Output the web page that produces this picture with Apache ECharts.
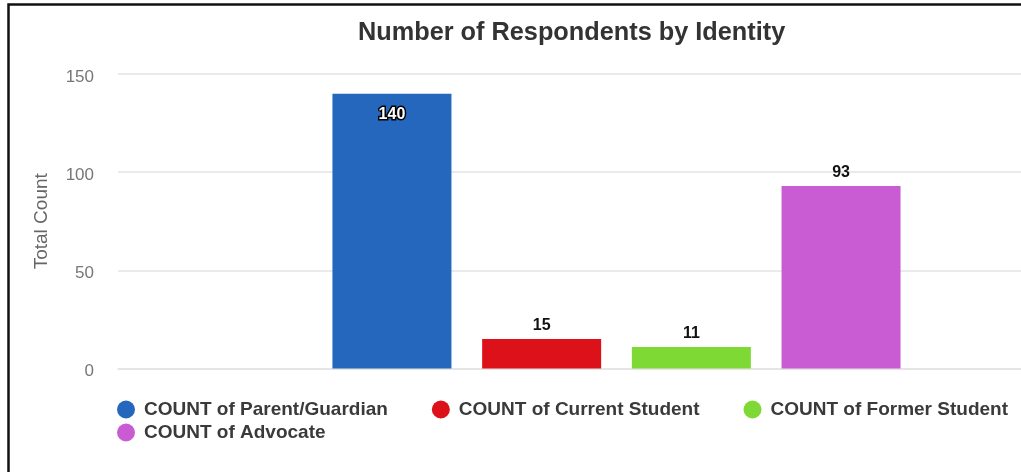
<!DOCTYPE html>
<html>
<head>
<meta charset="utf-8">
<script src="https://cdn.jsdelivr.net/npm/echarts@6/dist/echarts.min.js"></script>
<style>
html,body{margin:0;padding:0;background:#fff;}
#chart{width:1021px;height:472px;}
</style>
</head>
<body>
<div id="chart"></div>
<script>
const categories = ['Parent/Guardian', 'Current Student', 'Former Student', 'Advocate'];
const values = [140, 15, 11, 93];
const colors = ['#2467bd', '#dc1119', '#7ed934', '#c95bd3'];
const yTicks = [0, 50, 100, 150];

const FONT = '"Liberation Sans", Arial, sans-serif';
const seriesNames = categories.map(c => 'COUNT of ' + c);

const series = categories.map((c, i) => ({
  name: seriesNames[i],
  type: 'bar',
  data: [values[i]],
  barWidth: 119,
  barGap: '25.8%',
  itemStyle: { color: colors[i] },
  label: i === 0 ? {
    show: true, position: 'insideTop', distance: 13,
    color: '#fff', fontWeight: 'bold', fontSize: 16, fontFamily: FONT,
    textBorderColor: '#000', textBorderWidth: 3
  } : {
    show: true, position: 'top', distance: 5,
    color: '#111', fontWeight: 'bold', fontSize: 16, fontFamily: FONT
  }
}));

const chart = echarts.init(document.getElementById('chart'), null, { renderer: 'canvas' });
chart.setOption({
  animation: false,
  backgroundColor: '#fff',
  title: {
    text: 'Number of Respondents by Identity',
    left: 353, top: 16,
    textStyle: { fontFamily: FONT, fontSize: 25.3, fontWeight: 'bold', color: '#333' }
  },
  legend: [
    {
      data: seriesNames.slice(0, 3),
      left: 112, top: 395,
      orient: 'horizontal',
      icon: 'circle', itemWidth: 18, itemHeight: 18, itemGap: 44,
      textStyle: { fontFamily: FONT, fontSize: 19, fontWeight: 'bold', color: '#3a3a3a', padding: [0, 0, 0, 4] }
    },
    {
      data: seriesNames.slice(3),
      left: 112, top: 418,
      orient: 'horizontal',
      icon: 'circle', itemWidth: 18, itemHeight: 18, itemGap: 44,
      textStyle: { fontFamily: FONT, fontSize: 19, fontWeight: 'bold', color: '#3a3a3a', padding: [0, 0, 0, 4] }
    }
  ],
  grid: { left: 118, top: 74, width: 997, height: 294.5, containLabel: false, outerBoundsMode: 'none' },
  xAxis: {
    type: 'category',
    data: [''],
    axisLine: { show: true, lineStyle: { color: '#e3e3e3', width: 1.5 } },
    axisTick: { show: false },
    axisLabel: { show: false }
  },
  yAxis: {
    type: 'value',
    min: yTicks[0], max: yTicks[yTicks.length - 1], interval: 50,
    name: 'Total Count',
    nameLocation: 'middle',
    nameGap: 67,
    nameTextStyle: { fontFamily: FONT, fontSize: 19, color: '#666' },
    axisLine: { show: false },
    axisTick: { show: false },
    axisLabel: {
      margin: 24,
      formatter: '{v|{value}}',
      rich: { v: { fontFamily: FONT, fontSize: 17, color: '#777', padding: [6, 0, 0, 0] } }
    },
    splitLine: { lineStyle: { color: '#e3e3e3', width: 1.5 } }
  },
  series: series,
  graphic: [{
    type: 'rect',
    shape: { x: 8.5, y: 4.5, width: 1100, height: 520 },
    style: { fill: 'none', stroke: '#111', lineWidth: 2.5 },
    silent: true
  }]
});
</script>
</body>
</html>
